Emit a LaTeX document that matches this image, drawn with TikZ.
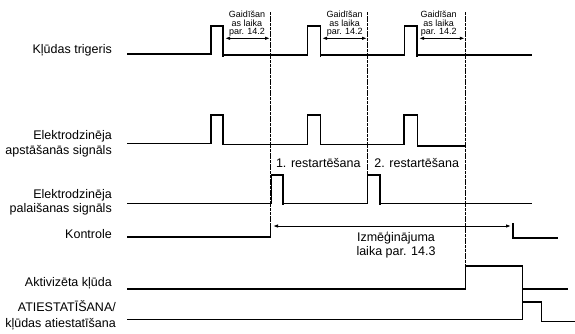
\documentclass[tikz,border=0pt]{standalone}
\usepackage{fontspec}
\setmainfont{Liberation Sans}
\usetikzlibrary{arrows.meta}
\begin{document}
\begin{tikzpicture}[x=1pt,y=-1pt,
  sig/.style={line width=1.1pt, line join=miter},
  guide/.style={line width=1.3pt, dash pattern=on 3pt off 0.7pt},
  lbl/.style={anchor=base east, font=\fontsize{12.5}{15}\selectfont, inner sep=0pt},
  small/.style={anchor=south, font=\fontsize{9}{8.5}\selectfont, align=center, inner sep=0pt},
  txt/.style={anchor=base, font=\fontsize{12.5}{15}\selectfont, inner sep=0pt},
  dim/.style={line width=1pt, {Latex[length=5pt,width=3.5pt]}-{Latex[length=5pt,width=3.5pt]}}
]
\useasboundingbox (0,0) rectangle (575,333);

% row labels
\node[lbl] (l1)  at (112,53)    {Kļūdas trigeris};
\node[lbl] (l2a) at (112,139.5) {Elektrodzinēja};
\node[lbl] (l2b) at (112,154.5) {apstāšanās signāls};
\node[lbl] (l3a) at (112,198.5) {Elektrodzinēja};
\node[lbl] (l3b) at (112,212.5) {palaišanas signāls};
\node[lbl] (l4)  at (112,238)   {Kontrole};
\node[lbl] (l5)  at (112,286.5) {Aktivizēta kļūda};
\node[lbl] (l6a) at (116,311.5) {ATIESTATĪŠANA/};
\node[lbl] (l6b) at (116,327.5) {kļūdas atiestatīšana};

% guide lines
\draw[guide] (270.5,12) -- (270.5,226);
\draw[guide] (367.5,12) -- (367.5,175);
\draw[guide] (465.5,12) -- (465.5,266);

% fault trigger
\draw[sig] (127,54) -| (211,26) -| (223,57);
\draw[sig] (223,55) -| (307.5,26) -| (320.5,57);
\draw[sig] (320.5,55) -| (404.5,26) -| (417,57);
\draw[sig] (417,55) -- (531.5,55);

% motor stop signal
\draw[sig] (127,143.5) -| (211,115) -| (223,144.5) -| (307.5,115) -| (320.5,144.5)
  -| (404,115) -| (417.5,146) -- (465.5,146);

% motor start signal
\draw[sig] (127,203.5) -| (271.5,175) -| (283,205);
\draw[sig] (283,203.5) -| (367.5,175) -| (380,205);
\draw[sig] (380,203.5) -- (531.5,203.5);

% control
\draw[sig] (127,237) -| (270.5,226);
\coordinate (k1) at (273,226);
\coordinate (k2) at (511,226);
\draw[dim] (k1) -- (k2);
\draw[sig] (513,223) -- (513,238) -- (558,238);

% activated fault
\draw[sig] (127,289) -| (465.5,266) -| (522.7,302);
\draw[sig] (522.7,289) -- (567.7,289);

% reset
\draw[sig] (127,319.3) -| (522.7,302) -| (541.7,321.7) -- (575,321.7);

% waiting time arrows
\coordinate (a1) at (225,38.3);  \coordinate (b1) at (270,38.3);
\coordinate (a2) at (322,38.3);  \coordinate (b2) at (367,38.3);
\coordinate (a3) at (419,38.3);  \coordinate (b3) at (464.8,38.3);
\draw[dim] (a1) -- (b1);
\draw[dim] (a2) -- (b2);
\draw[dim] (a3) -- (b3);
\node[small] (g1) at (247,37) {Gaidīšan\\as laika\\par. 14.2};
\node[small] (g2) at (344.7,37) {Gaidīšan\\as laika\\par. 14.2};
\node[small] (g3) at (438.7,37) {Gaidīšan\\as laika\\par. 14.2};

% restart labels
\node[txt] (r1) at (318.3,167) {1. restartēšana};
\node[txt] (r2) at (416.7,167) {2. restartēšana};

% test time label
\node[txt] (t1) at (396,241.5) {Izmēģinājuma};
\node[txt] (t2) at (396,255.5) {laika par. 14.3};
\end{tikzpicture}
\end{document}
